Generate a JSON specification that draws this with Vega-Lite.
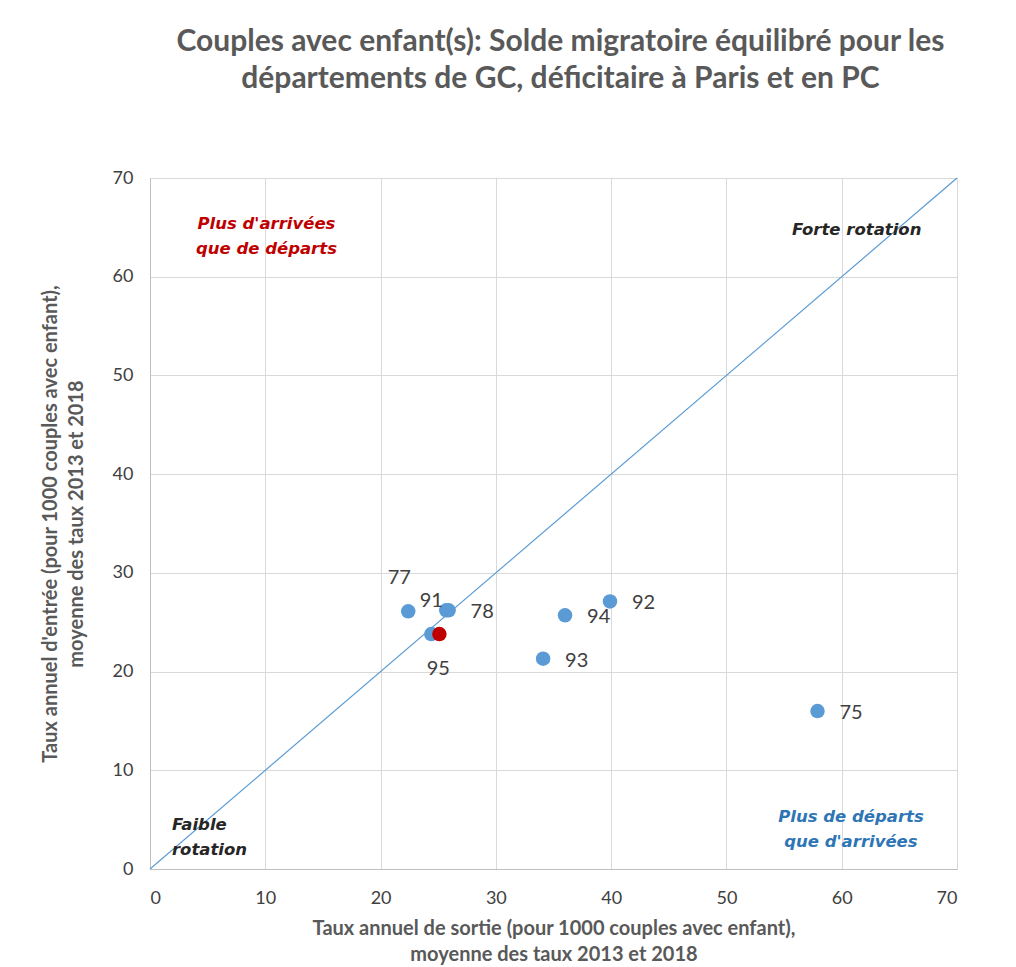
{
  "$schema": "https://vega.github.io/schema/vega-lite/v6.json",
  "width": 807,
  "height": 691,
  "autosize": "none",
  "padding": {"left": 150, "top": 178, "right": 59, "bottom": 98},
  "background": "white",
  "title": {
    "text": ["Couples avec enfant(s): Solde migratoire équilibré pour les", "départements de GC, déficitaire à Paris et en PC"],
    "font": "Lato",
    "fontSize": 30,
    "fontWeight": "bold",
    "color": "#595959",
    "anchor": "middle",
    "lineHeight": 37,
    "offset": 75,
    "dx": 7
  },
  "config": {
    "view": {"stroke": "#a6a6a6", "strokeWidth": 1},
    "axis": {
      "grid": true,
      "gridColor": "#d9d9d9",
      "gridWidth": 1,
      "ticks": false,
      "domainColor": "#bfbfbf",
      "labelFont": "Lato",
      "labelFontSize": 18,
      "labelColor": "#404040",
      "titleFont": "Lato",
      "titleFontSize": 20,
      "titleFontWeight": "bold",
      "titleColor": "#595959",
      "titleLineHeight": 26
    }
  },
  "resolve": {"scale": {"color": "independent"}},
  "datasets": {
    "pts": [
      {"dept": "77", "sortie": 22.4, "entree": 26.1, "groupe": "dep"},
      {"dept": "91", "sortie": 25.7, "entree": 26.2, "groupe": "dep"},
      {"dept": "78", "sortie": 25.9, "entree": 26.2, "groupe": "dep"},
      {"dept": "95", "sortie": 24.4, "entree": 23.8, "groupe": "dep"},
      {"dept": "94", "sortie": 36.0, "entree": 25.7, "groupe": "dep"},
      {"dept": "93", "sortie": 34.1, "entree": 21.3, "groupe": "dep"},
      {"dept": "92", "sortie": 39.9, "entree": 27.1, "groupe": "dep"},
      {"dept": "75", "sortie": 57.9, "entree": 16.0, "groupe": "dep"},
      {"dept": "Ensemble", "sortie": 25.1, "entree": 23.8, "groupe": "moy"}
    ],
    "diag": [
      {"sortie": 0, "entree": 0},
      {"sortie": 70, "entree": 70}
    ],
    "notes": [
      {"texte": "Plus d'arrivées\nque de départs", "sortie": 10.1, "entree": 65.3, "type": "arr"},
      {"texte": "Forte rotation", "sortie": 61.3, "entree": 64.7, "type": "rot"},
      {"texte": "Faible\nrotation", "sortie": 1.9, "entree": 4.5, "type": "rot"},
      {"texte": "Plus de départs\nque d'arrivées", "sortie": 60.8, "entree": 5.3, "type": "dep"}
    ]
  },
  "encoding": {
    "x": {
      "field": "sortie",
      "type": "quantitative",
      "scale": {"domain": [0, 70], "nice": false, "zero": false},
      "axis": {
        "values": [0, 10, 20, 30, 40, 50, 60, 70],
        "title": ["Taux annuel de sortie (pour 1000 couples avec enfant),", "moyenne des taux 2013 et 2018"],
        "labelPadding": 20,
        "titlePadding": 11
      }
    },
    "y": {
      "field": "entree",
      "type": "quantitative",
      "scale": {"domain": [0, 70], "nice": false, "zero": false},
      "axis": {
        "values": [0, 10, 20, 30, 40, 50, 60, 70],
        "title": ["Taux annuel d'entrée (pour 1000 couples avec enfant),", "moyenne des taux 2013 et 2018"],
        "labelPadding": 17,
        "titlePadding": 26
      }
    }
  },
  "layer": [
    {
      "data": {"name": "diag"},
      "mark": {"type": "line", "color": "#5b9bd5", "strokeWidth": 1.2}
    },
    {
      "data": {"name": "pts"},
      "mark": {"type": "circle", "size": 210, "opacity": 1},
      "encoding": {
        "color": {
          "field": "groupe",
          "type": "nominal",
          "scale": {"domain": ["dep", "moy"], "range": ["#5b9bd5", "#c00000"]},
          "legend": null
        },
        "order": {"field": "groupe"}
      }
    },
    {
      "data": {"name": "pts"},
      "transform": [{"filter": "indexof(['78','94','92','93','75'], datum.dept) >= 0"}],
      "mark": {"type": "text", "align": "left", "baseline": "middle", "dx": 22, "dy": 2, "font": "Lato", "fontSize": 20, "color": "#404040"},
      "encoding": {"text": {"field": "dept"}}
    },
    {
      "data": {"name": "pts"},
      "transform": [{"filter": "datum.dept == '77'"}],
      "mark": {"type": "text", "align": "center", "baseline": "middle", "dx": -9, "dy": -33, "font": "Lato", "fontSize": 20, "color": "#404040"},
      "encoding": {"text": {"field": "dept"}}
    },
    {
      "data": {"name": "pts"},
      "transform": [{"filter": "datum.dept == '91'"}],
      "mark": {"type": "text", "align": "center", "baseline": "middle", "dx": -15, "dy": -9, "font": "Lato", "fontSize": 20, "color": "#404040"},
      "encoding": {"text": {"field": "dept"}}
    },
    {
      "data": {"name": "pts"},
      "transform": [{"filter": "datum.dept == '95'"}],
      "mark": {"type": "text", "align": "center", "baseline": "middle", "dx": 7, "dy": 35, "font": "Lato", "fontSize": 20, "color": "#404040"},
      "encoding": {"text": {"field": "dept"}}
    },
    {
      "data": {"name": "notes"},
      "transform": [{"filter": "datum.sortie > 5"}],
      "mark": {"type": "text", "align": "center", "baseline": "middle", "font": "DejaVu Sans", "fontSize": 16.5, "fontWeight": "bold", "fontStyle": "italic", "lineBreak": "\n", "lineHeight": 25},
      "encoding": {
        "text": {"field": "texte"},
        "color": {
          "field": "type",
          "type": "nominal",
          "scale": {"domain": ["arr", "rot", "dep"], "range": ["#c00000", "#262626", "#2e75b6"]},
          "legend": null
        }
      }
    },
    {
      "data": {"name": "notes"},
      "transform": [{"filter": "datum.sortie <= 5"}],
      "mark": {"type": "text", "align": "left", "baseline": "middle", "font": "DejaVu Sans", "fontSize": 16.5, "fontWeight": "bold", "fontStyle": "italic", "lineBreak": "\n", "lineHeight": 25, "color": "#262626"},
      "encoding": {
        "text": {"field": "texte"}
      }
    }
  ]
}
